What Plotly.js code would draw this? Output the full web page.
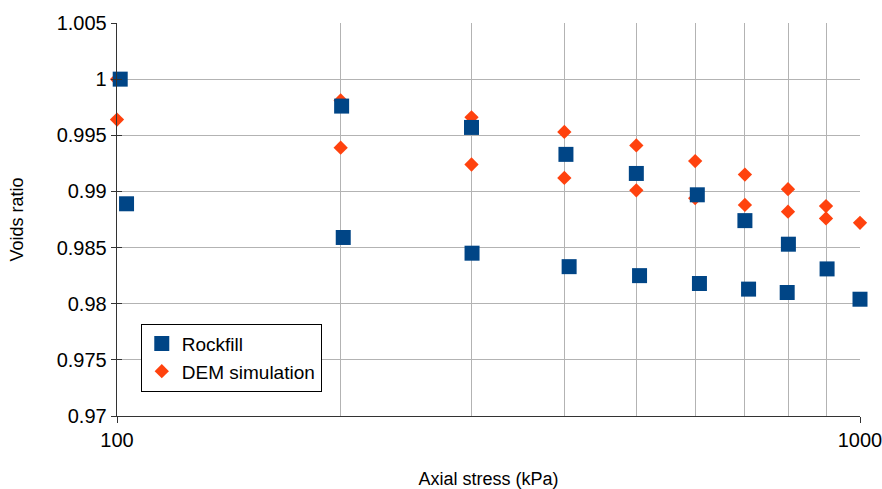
<!DOCTYPE html>
<html>
<head>
<meta charset="utf-8">
<script src="https://cdn.plot.ly/plotly-3.0.1.min.js"></script>
<style>html,body{margin:0;padding:0;background:#fff;}#chart{width:882px;height:489px;}</style>
</head>
<body>
<div id="chart"></div>
<script>
// Rockfill series
const rockfillStress = [101, 103, 200.6, 201.6, 300, 300.5, 402, 406, 500, 505, 604, 608, 700, 708, 801, 798, 903, 1000];
const rockfillVoids  = [1.0, 0.9889, 0.9976, 0.9859, 0.9957, 0.9845, 0.9933, 0.9833, 0.9916, 0.9825, 0.9897, 0.9818, 0.9874, 0.9813, 0.9853, 0.9810, 0.9831, 0.9804];
// DEM simulation series
const demStress = [100, 100, 200, 200, 300, 300, 400, 400, 500, 500, 600, 600, 700, 700, 800, 800, 900, 900, 1000];
const demVoids  = [1.0, 0.9964, 0.9981, 0.9939, 0.9966, 0.9924, 0.9953, 0.9912, 0.9941, 0.9901, 0.9927, 0.9894, 0.9915, 0.9888, 0.9902, 0.9882, 0.9887, 0.9876, 0.9872];
// Axis ticks
const xMajorTicks = [100, 1000];
const xGridTicks = [200, 300, 400, 500, 600, 700, 800, 900];
const yTicks = [0.97, 0.975, 0.98, 0.985, 0.99, 0.995, 1, 1.005];
const yTickText = ['0.97', '0.975', '0.98', '0.985', '0.99', '0.995', '1', '1.005'];

const FONT = 'Liberation Sans, Arial, sans-serif';

const traces = [
  {
    name: 'DEM simulation', x: demStress, y: demVoids, type: 'scatter', mode: 'markers',
    marker: {symbol: 'diamond', size: 11, color: '#ff420e'}, cliponaxis: false,
    xaxis: 'x', yaxis: 'y'
  },
  {
    name: 'Rockfill', x: rockfillStress, y: rockfillVoids, type: 'scatter', mode: 'markers',
    marker: {symbol: 'square', size: 15, color: '#004586'}, cliponaxis: false,
    xaxis: 'x', yaxis: 'y2'
  }
];

const yRange = [0.97, 1.005];
const layout = {
  width: 882, height: 489,
  margin: {l: 117, r: 22, t: 23, b: 73, pad: 0},
  paper_bgcolor: '#fff', plot_bgcolor: '#fff',
  font: {family: FONT, size: 20, color: '#000'},
  showlegend: true,
  legend: {
    x: 0.032, y: 0.062, xanchor: 'left', yanchor: 'bottom',
    bordercolor: '#000', borderwidth: 1, bgcolor: '#fff',
    traceorder: 'reversed', font: {family: FONT, size: 19, color: '#000'},
    itemsizing: 'trace', tracegroupgap: 0
  },
  xaxis: {
    type: 'log', range: [2, 3], autorange: false,
    tickmode: 'array', tickvals: xMajorTicks, ticktext: ['100', '1000'],
    ticks: 'outside', ticklen: 6, tickcolor: '#333', tickwidth: 1,
    ticklabeloverflow: 'allow',
    showline: true, linecolor: '#333', linewidth: 1.3, mirror: false,
    showgrid: true, gridcolor: '#b3b3b3', gridwidth: 1,
    minor: {tickmode: 'array', tickvals: xGridTicks, ticks: '', showgrid: true, gridcolor: '#b3b3b3', gridwidth: 1},
    zeroline: false,
    tickfont: {family: FONT, size: 20, color: '#000'},
    title: {text: 'Axial stress (kPa)', font: {family: FONT, size: 18, color: '#000'}, standoff: 25},
    automargin: false
  },
  yaxis: {
    range: yRange, autorange: false,
    tickmode: 'array', tickvals: yTicks, ticktext: yTickText,
    ticks: 'outside', ticklen: 5, tickcolor: '#333', tickwidth: 1,
    ticklabeloverflow: 'allow',
    showline: true, linecolor: '#333', linewidth: 1.3,
    showgrid: true, gridcolor: '#b3b3b3', gridwidth: 1,
    zeroline: false,
    tickfont: {family: FONT, size: 20, color: '#000'},
    title: {text: 'Voids ratio', font: {family: FONT, size: 18, color: '#000'}, standoff: 28},
    automargin: false
  },
  yaxis2: {
    overlaying: 'y', side: 'left', range: yRange, autorange: false,
    tickmode: 'array', tickvals: yTicks,
    ticks: 'inside', ticklen: 5, tickcolor: '#333', tickwidth: 1,
    showticklabels: false, showgrid: false, showline: false, zeroline: false
  }
};

Plotly.newPlot('chart', traces, layout, {staticPlot: true, displayModeBar: false});
</script>
</body>
</html>
